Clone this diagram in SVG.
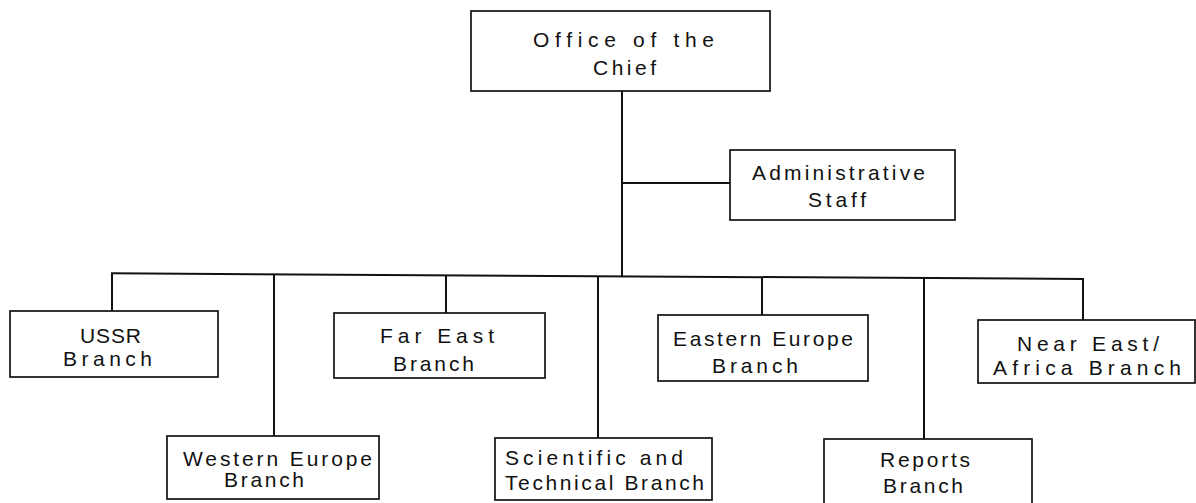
<svg xmlns="http://www.w3.org/2000/svg" width="1196" height="503" viewBox="0 0 1196 503">
  <style>
    .box { fill: #ffffff; stroke: #111111; stroke-width: 1.7; }
    .conn { fill: none; stroke: #111111; stroke-width: 2; }
    .lbl { font-family: "Liberation Sans", Arial, sans-serif; font-size: 21px; fill: #111111; }
  </style>
  <rect width="1196" height="503" fill="#ffffff"/>
  <g id="connectors">
    <line class="conn" x1="622" y1="91" x2="622" y2="276.3"/>
    <line class="conn" x1="622" y1="183" x2="730" y2="183"/>
    <line class="conn" x1="111" y1="273.3" x2="1084" y2="279"/>
    <line class="conn" x1="112" y1="273.3" x2="112" y2="311"/>
    <line class="conn" x1="274" y1="274.3" x2="274" y2="436"/>
    <line class="conn" x1="446" y1="275.3" x2="446" y2="313"/>
    <line class="conn" x1="598" y1="276.2" x2="598" y2="438"/>
    <line class="conn" x1="762" y1="277.1" x2="762" y2="315"/>
    <line class="conn" x1="924" y1="278.1" x2="924" y2="439"/>
    <line class="conn" x1="1083" y1="279" x2="1083" y2="320"/>
  </g>
  <g id="office-chief">
    <rect class="box" x="471" y="11" width="299" height="80"/>
    <text class="lbl" x="533" y="47" textLength="181" lengthAdjust="spacing">Office of the</text>
    <text class="lbl" x="593" y="75" textLength="63" lengthAdjust="spacing">Chief</text>
  </g>
  <g id="admin-staff">
    <rect class="box" x="730" y="150" width="225" height="70"/>
    <text class="lbl" x="752" y="180" textLength="173" lengthAdjust="spacing">Administrative</text>
    <text class="lbl" x="808" y="207" textLength="58" lengthAdjust="spacing">Staff</text>
  </g>
  <g id="ussr-branch">
    <rect class="box" x="10" y="311" width="208" height="66"/>
    <text class="lbl" x="80" y="343" textLength="61" lengthAdjust="spacing">USSR</text>
    <text class="lbl" x="63" y="366" textLength="89" lengthAdjust="spacing">Branch</text>
  </g>
  <g id="far-east-branch">
    <rect class="box" x="334" y="313" width="211" height="65"/>
    <text class="lbl" x="380" y="343" textLength="114" lengthAdjust="spacing">Far East</text>
    <text class="lbl" x="393" y="371" textLength="81" lengthAdjust="spacing">Branch</text>
  </g>
  <g id="eastern-europe-branch">
    <rect class="box" x="658" y="315" width="210" height="66"/>
    <text class="lbl" x="673" y="346" textLength="180" lengthAdjust="spacing">Eastern Europe</text>
    <text class="lbl" x="712" y="373" textLength="86" lengthAdjust="spacing">Branch</text>
  </g>
  <g id="near-east-africa-branch">
    <rect class="box" x="978" y="320" width="217" height="63"/>
    <text class="lbl" x="1017" y="351" textLength="142" lengthAdjust="spacing">Near East/</text>
    <text class="lbl" x="993" y="375" textLength="188" lengthAdjust="spacing">Africa Branch</text>
  </g>
  <g id="western-europe-branch">
    <rect class="box" x="167" y="436" width="212" height="63"/>
    <text class="lbl" x="183" y="466" textLength="189" lengthAdjust="spacing">Western Europe</text>
    <text class="lbl" x="224" y="487" textLength="80" lengthAdjust="spacing">Branch</text>
  </g>
  <g id="scientific-technical-branch">
    <rect class="box" x="495" y="438" width="217" height="62"/>
    <text class="lbl" x="505" y="465" textLength="178" lengthAdjust="spacing">Scientific and</text>
    <text class="lbl" x="505" y="490" textLength="199" lengthAdjust="spacing">Technical Branch</text>
  </g>
  <g id="reports-branch">
    <rect class="box" x="824" y="439" width="208" height="68"/>
    <text class="lbl" x="880" y="467" textLength="90" lengthAdjust="spacing">Reports</text>
    <text class="lbl" x="883" y="493" textLength="80" lengthAdjust="spacing">Branch</text>
  </g>
</svg>
